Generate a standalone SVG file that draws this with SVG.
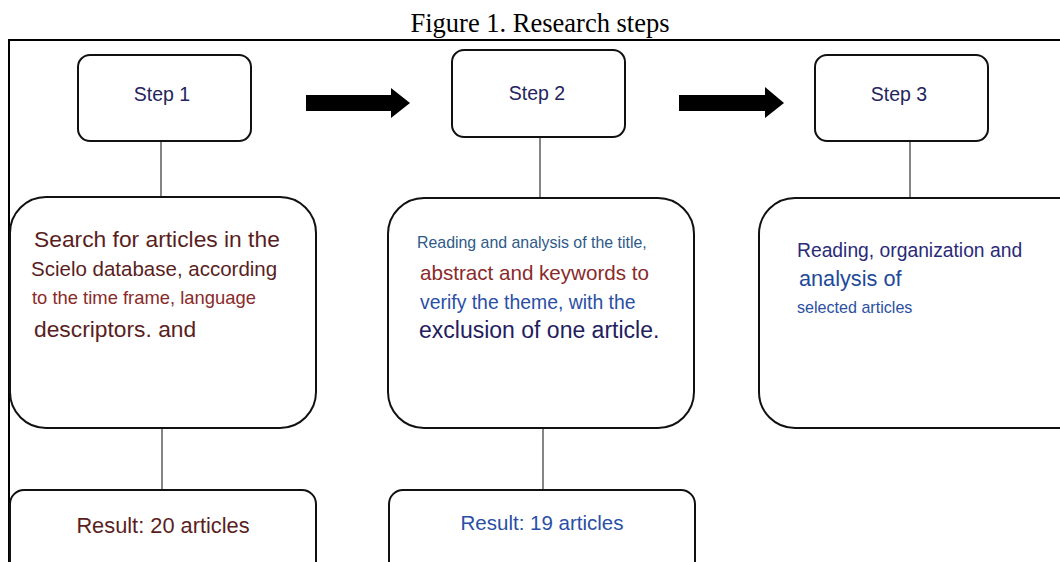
<svg xmlns="http://www.w3.org/2000/svg" width="1060" height="562" viewBox="0 0 1060 562">
<style>
.box{fill:#fff;stroke:#111;stroke-width:2}
.ln{stroke:#333;stroke-width:1.2;fill:none}
.t{font-family:"Liberation Sans",Arial,sans-serif}
.title{font-family:"Liberation Serif","Times New Roman",serif;font-size:26.5px;fill:#000}
</style>
<rect width="1060" height="562" fill="#fff"/>
<text class="title" x="540" y="32" text-anchor="middle">Figure 1. Research steps</text>
<path d="M9,562 V40 H1060" fill="none" stroke="#000" stroke-width="2"/>
<g id="connectors">
<line class="ln" x1="161" y1="141" x2="161" y2="197"/>
<line class="ln" x1="540" y1="137" x2="540" y2="198"/>
<line class="ln" x1="910" y1="141" x2="910" y2="198"/>
<line class="ln" x1="162" y1="428" x2="162" y2="490"/>
<line class="ln" x1="543" y1="428" x2="543" y2="490"/>
<polygon points="306,95 391,95 391,88 410,103 391,118 391,111 306,111" fill="#000"/>
<polygon points="679,95 765,95 765,87 784,103 765,118 765,111 679,111" fill="#000"/>
</g>
<g id="step1">
<rect class="box" x="78" y="55" width="173" height="86" rx="12"/>
<text class="t" x="162" y="101" text-anchor="middle" font-size="19.5" fill="#25245e">Step 1</text>
</g>
<g id="step2">
<rect class="box" x="452" y="50" width="173" height="87" rx="12"/>
<text class="t" x="537" y="100" text-anchor="middle" font-size="19.5" fill="#25245e">Step 2</text>
</g>
<g id="step3">
<rect class="box" x="815" y="55" width="173" height="86" rx="12"/>
<text class="t" x="899" y="101" text-anchor="middle" font-size="19.5" fill="#25245e">Step 3</text>
</g>
<g id="desc1">
<rect class="box" x="10" y="197" width="306" height="231" rx="36"/>
<text class="t" x="34" y="247" font-size="22.8" fill="#5a1e1e">Search for articles in the</text>
<text class="t" x="31" y="276" font-size="20.5" fill="#5a1e1e">Scielo database, according</text>
<text class="t" x="32" y="304" font-size="18.4" fill="#8a2a2a">to the time frame, language</text>
<text class="t" x="34" y="337" font-size="22.8" fill="#5a1e1e">descriptors. and</text>
</g>
<g id="desc2">
<rect class="box" x="388" y="198" width="306" height="230" rx="36"/>
<text class="t" x="417" y="248" font-size="15.9" fill="#2d5a88">Reading and analysis of the title,</text>
<text class="t" x="420" y="280" font-size="20.6" fill="#8a2a2a">abstract and keywords to</text>
<text class="t" x="420" y="309" font-size="19.4" fill="#2a4fa5">verify the theme, with the</text>
<text class="t" x="419" y="338" font-size="23" fill="#1f205e">exclusion of one article.</text>
</g>
<g id="desc3">
<rect class="box" x="759" y="198" width="340" height="230" rx="36"/>
<text class="t" x="797" y="257" font-size="19.3" fill="#2a2a78">Reading, organization and</text>
<text class="t" x="799" y="286" font-size="21.7" fill="#1e4a9a">analysis of</text>
<text class="t" x="797" y="313" font-size="16.1" fill="#2a50a0">selected articles</text>
</g>
<g id="result1">
<rect class="box" x="10" y="490" width="306" height="90" rx="14"/>
<text class="t" x="163" y="533" text-anchor="middle" font-size="21.8" fill="#5a1e1e">Result: 20 articles</text>
</g>
<g id="result2">
<rect class="box" x="389" y="490" width="306" height="90" rx="14"/>
<text class="t" x="542" y="530" text-anchor="middle" font-size="20.5" fill="#2a4fa5">Result: 19 articles</text>
</g>
</svg>
